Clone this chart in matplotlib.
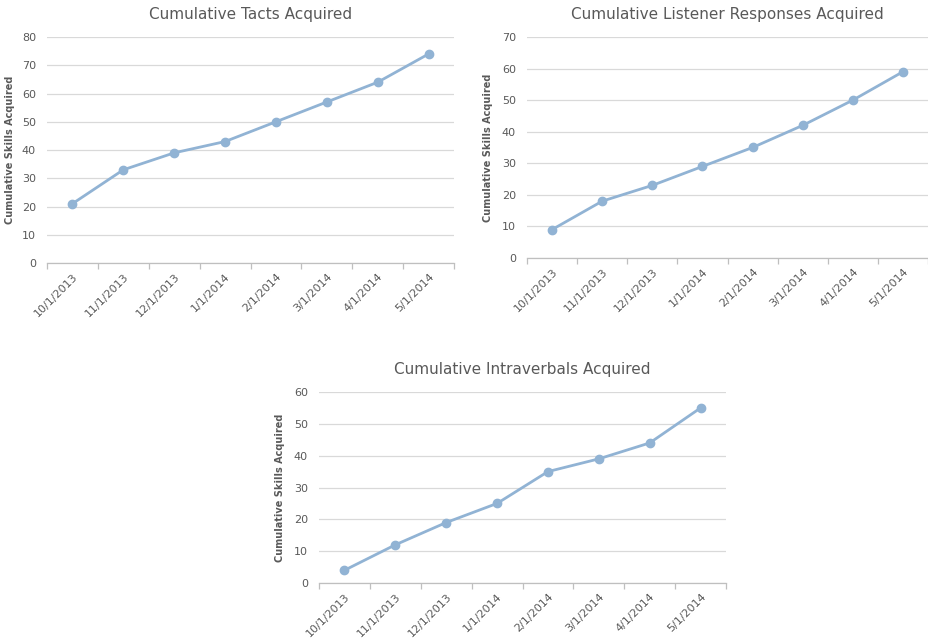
import matplotlib.pyplot as plt

# months on the category axis
months = ['10/1/2013', '11/1/2013', '12/1/2013', '1/1/2014',
          '2/1/2014', '3/1/2014', '4/1/2014', '5/1/2014']

tacts = [21, 33, 39, 43, 50, 57, 64, 74]
listener = [9, 18, 23, 29, 35, 42, 50, 59]
intraverbals = [4, 12, 19, 25, 35, 39, 44, 55]

line_color = '#91b3d4'
text_color = '#595959'
grid_color = '#d9d9d9'

plt.rcParams['font.family'] = ['DejaVu Sans']

fig = plt.figure(figsize=(9.29, 6.44), dpi=100)


def draw_panel(rect, values, title, ymax, label_x):
	ax = fig.add_axes(rect)
	x = list(range(len(values)))
	ax.plot(x, values, color=line_color, linewidth=2.0, marker='o',
			markersize=6, zorder=3)
	ax.set_xlim(-0.5, len(values) - 0.5)
	ax.set_ylim(0, ymax)
	ax.set_yticks(range(0, ymax + 1, 10))
	ax.grid(axis='y', color=grid_color, linewidth=0.9)
	ax.set_axisbelow(True)
	for s in ['left', 'top', 'right']:
		ax.spines[s].set_visible(False)
	ax.spines['bottom'].set_color('#bfbfbf')
	ax.spines['bottom'].set_linewidth(0.9)
	# labels at category centres, tick marks on boundaries
	ax.set_xticks(x)
	ax.set_xticklabels(months, rotation=45, ha='right', va='top',
					   rotation_mode='anchor', color=text_color, fontsize=8)
	ax.tick_params(axis='x', length=0, pad=6)
	ax.set_xticks([i - 0.5 for i in range(len(values) + 1)], minor=True)
	ax.tick_params(axis='x', which='minor', length=4, color='#bfbfbf', width=0.9)
	ax.tick_params(axis='y', length=0, pad=8, labelsize=8, labelcolor=text_color)
	ax.set_title(title, color=text_color, fontsize=11, pad=13)
	ax.set_ylabel('Cumulative Skills Acquired', color=text_color,
				  fontsize=7, fontweight='bold')
	ax.yaxis.set_label_coords(label_x, 0.5)
	return ax


draw_panel([0.0506, 0.5916, 0.4381, 0.3509], tacts, 'Cumulative Tacts Acquired', 80, -0.078)
draw_panel([0.5673, 0.5994, 0.4317, 0.3432], listener, 'Cumulative Listener Responses Acquired', 70, -0.085)
draw_panel([0.3434, 0.0947, 0.4381, 0.2966], intraverbals, 'Cumulative Intraverbals Acquired', 60, -0.083)

fig.savefig('out.png', dpi=100)
